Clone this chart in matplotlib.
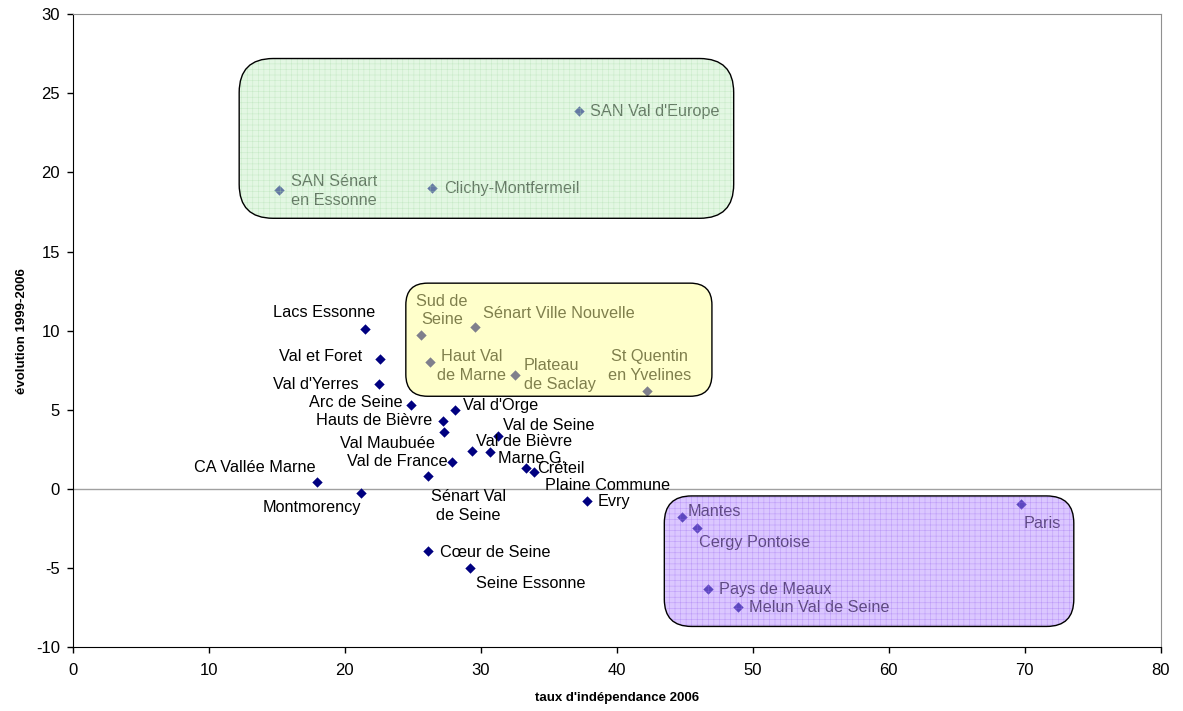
import matplotlib.pyplot as plt
from matplotlib.patches import FancyBboxPatch

plt.rcParams['font.family'] = ['Liberation Sans', 'DejaVu Sans']
plt.rcParams['hatch.linewidth'] = 0.4
plt.rcParams['axes.unicode_minus'] = False

# agglomerations: (name, taux d'indépendance 2006, évolution 1999-2006)
names = ["SAN Val d'Europe", "SAN Sénart\nen Essonne", "Clichy-Montfermeil",
         "Sud de\nSeine", "Sénart Ville Nouvelle", "Haut Val\nde Marne",
         "Plateau\nde Saclay", "St Quentin\nen Yvelines",
         "Lacs Essonne", "Val et Foret", "Val d'Yerres", "Arc de Seine",
         "Val d'Orge", "Hauts de Bièvre", "Val Maubuée", "Val de Seine",
         "Val de Bièvre", "Marne G.", "Val de France", "Sénart Val\nde Seine",
         "CA Vallée Marne", "Montmorency", "Créteil", "Plaine Commune",
         "Evry", "Cœur de Seine", "Seine Essonne",
         "Mantes", "Cergy Pontoise", "Pays de Meaux", "Melun Val de Seine",
         "Paris"]
taux = [37.2, 15.2, 26.4,
        25.6, 29.6, 26.3, 32.5, 42.2,
        21.5, 22.6, 22.5, 24.9, 28.1, 27.2, 27.3, 31.3,
        29.4, 30.7, 27.9, 26.1, 18.0, 21.2, 33.3, 33.9,
        37.8, 26.1, 29.2,
        44.8, 45.9, 46.7, 48.9, 69.7]
evol = [23.9, 18.9, 19.0,
        9.7, 10.2, 8.0, 7.2, 6.2,
        10.1, 8.2, 6.6, 5.3, 5.0, 4.3, 3.6, 3.35,
        2.4, 2.3, 1.7, 0.8, 0.4, -0.25, 1.3, 1.05,
        -0.75, -3.95, -5.0,
        -1.8, -2.45, -6.35, -7.5, -0.95]

# label placement: (dx px, dy px, ha, multialign)
label_pos = [(11, -1, 'left', 'left'), (12, -1, 'left', 'left'), (12, 0, 'left', 'left'),
             (21, 25, 'center', 'center'), (8, 14, 'left', 'left'), (41, -4, 'center', 'center'),
             (9, 0, 'left', 'left'), (3, 25, 'center', 'center'),
             (-41, 17, 'center', 'center'), (-18, 3, 'right', 'right'), (-20, 0, 'right', 'right'),
             (-9, 2, 'right', 'right'),
             (8, 4, 'left', 'left'), (-10, 0, 'right', 'right'), (-9, -12, 'right', 'right'),
             (5, 10, 'left', 'left'),
             (4, 9, 'left', 'left'), (8, -6, 'left', 'left'), (-4, 0, 'right', 'right'),
             (41, -30, 'center', 'center'), (-63, 15, 'center', 'center'),
             (-49, -15, 'center', 'center'), (12, 0, 'left', 'left'), (11, -13, 'left', 'left'),
             (11, -1, 'left', 'left'), (12, -1, 'left', 'left'), (6, -16, 'left', 'left'),
             (6, 6, 'left', 'left'), (2, -15, 'left', 'left'), (11, 0, 'left', 'left'),
             (11, 0, 'left', 'left'), (22, -20, 'center', 'center')]

# highlight groups: (x0, x1, y0, y1, colour, grid colour, corner radius)
boxes = [(12.25, 48.6, 17.1, 27.2, '#c8f0c8', '#a8dca8', 2.5),
         (24.5, 47.0, 5.85, 13.0, '#ffff99', None, 1.6),
         (43.5, 73.6, -8.7, -0.45, '#b890ff', '#9a68f0', 2.0)]

fig = plt.figure(figsize=(11.83, 7.11), dpi=100)
ax = fig.add_axes([0.0613, 0.090, 0.920, 0.890])

ax.axhline(0, color='#a0a0a0', lw=1, zorder=1)
ax.scatter(taux, evol, marker='D', s=28, color='#000080', zorder=3, linewidths=0)

for name, x, y, (dx, dy, ha, ma) in zip(names, taux, evol, label_pos):
    ax.annotate(name, (x, y), xytext=(dx, dy), textcoords='offset pixels',
                ha=ha, va='center', multialignment=ma, fontsize=11.7,
                linespacing=1.3, zorder=4)

aspect = 13.6 / 15.83
for x0, x1, y0, y1, col, grid, r in boxes:
    style = "round,pad=0,rounding_size=%s" % r
    ax.add_patch(FancyBboxPatch((x0, y0), x1 - x0, y1 - y0, boxstyle=style,
                                mutation_aspect=aspect, facecolor=col,
                                edgecolor='none', alpha=0.5, zorder=5))
    if grid:
        ax.add_patch(FancyBboxPatch((x0, y0), x1 - x0, y1 - y0, boxstyle=style,
                                    mutation_aspect=aspect, facecolor='none',
                                    edgecolor=grid, hatch='+++', lw=0,
                                    alpha=0.45, zorder=5))
    ax.add_patch(FancyBboxPatch((x0, y0), x1 - x0, y1 - y0, boxstyle=style,
                                mutation_aspect=aspect, facecolor='none',
                                edgecolor='black', lw=1, zorder=6))

ax.set_xlim(0, 80)
ax.set_ylim(-10, 30)
ax.set_xticks(range(0, 81, 10))
ax.set_yticks(range(-10, 31, 5))
ax.tick_params(direction='out', length=4, labelsize=12, width=1, pad=5)
ax.tick_params(axis='x', pad=7.5)
for side in ['top', 'right']:
    ax.spines[side].set_color('#909090')
for side in ['left', 'bottom']:
    ax.spines[side].set_color('black')

ax.set_xlabel("taux d'indépendance 2006", fontsize=9.5, fontweight='bold', labelpad=10)
ax.set_ylabel("évolution 1999-2006", fontsize=9.5, fontweight='bold', labelpad=6)

fig.savefig('out.png', dpi=100)
